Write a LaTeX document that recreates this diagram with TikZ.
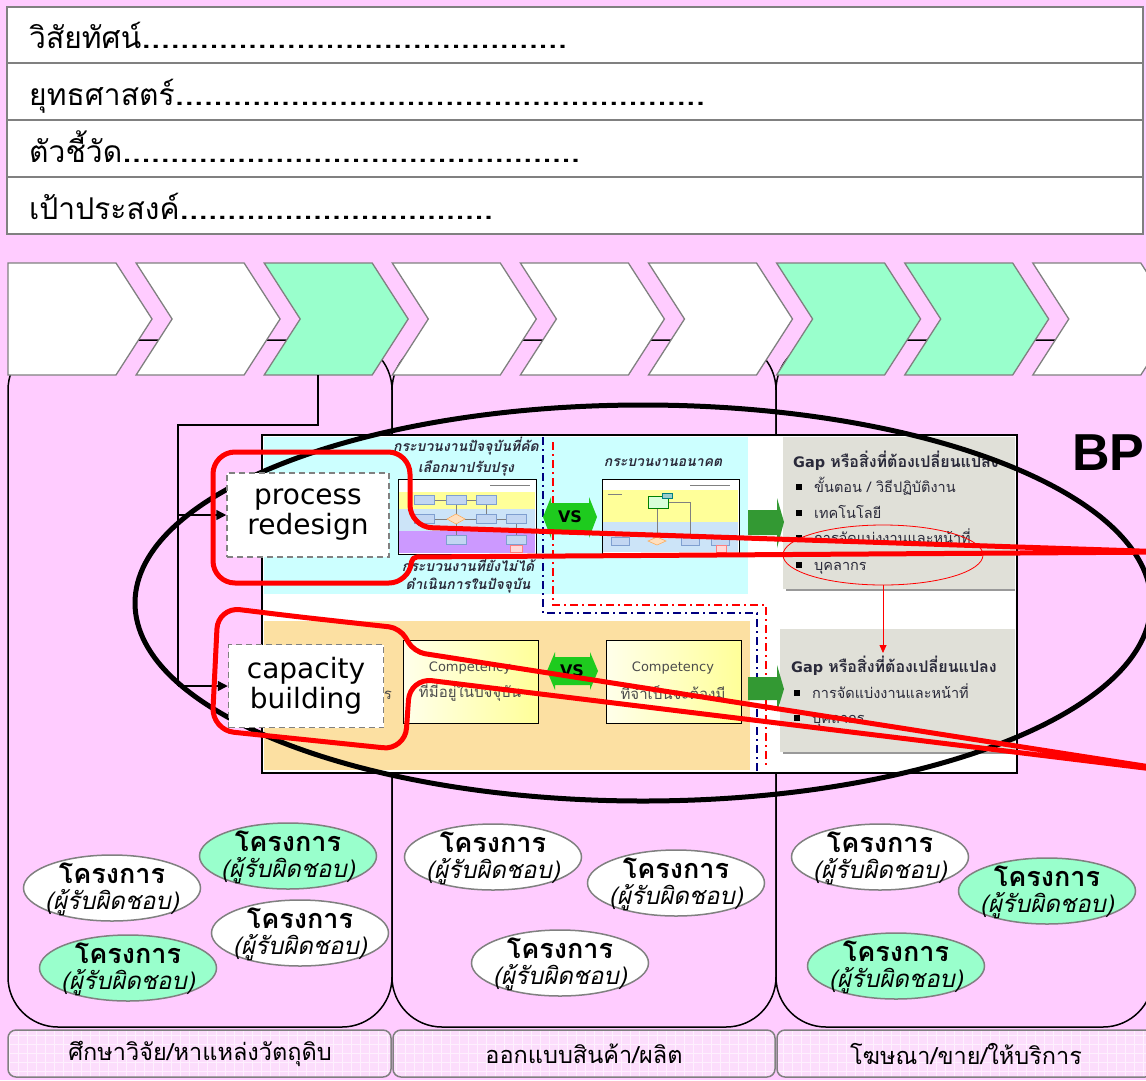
\documentclass[tikz,border=0pt]{standalone}
\usepackage{fontspec}
\setmainfont{DejaVu Sans}
\newfontfamily\thaifont[Script=Thai]{Loma}
\newfontfamily\bpfont{Liberation Sans}
\usetikzlibrary{arrows.meta,shapes.geometric}
\definecolor{bgpink}{HTML}{FFCCFF}
\definecolor{mint}{HTML}{99FFCC}
\definecolor{hgrey}{HTML}{808080}
\definecolor{cyanbg}{HTML}{CCFFFF}
\definecolor{tanbg}{HTML}{FCE0A2}
\definecolor{gapgrey}{HTML}{E0E0D8}
\definecolor{arrgreen}{HTML}{339933}
\definecolor{vsgreen}{HTML}{1ECB1E}
\definecolor{lblpink}{HTML}{FCDDFC}
\definecolor{navyline}{HTML}{000080}
\definecolor{fyellow}{HTML}{FFFF99}
\definecolor{fblue}{HTML}{CCE4F8}
\definecolor{fpurple}{HTML}{CC99FF}
\definecolor{fbox}{HTML}{C2D6F2}
\definecolor{fboxd}{HTML}{7F9FD0}
\definecolor{txtdark}{HTML}{2A2A3A}
\newcommand\dotrow[2]{\hbox to #1{#2\xleaders\hbox to 9.5pt{\hss{\bfseries.}\hss}\hfill}}
\tikzset{
  hdrrow/.style={draw=hgrey, line width=2.5pt, fill=white},
  hdrtxt/.style={anchor=base west, inner sep=0, font=\thaifont\fontsize{30}{32}\selectfont},
  chevw/.style={draw=hgrey, line width=1.3pt, fill=white, line join=miter},
  chevg/.style={chevw, fill=mint},
  colbox/.style={draw=black, line width=1.5pt, rounded corners=50pt, fill=bgpink},
  lblbox/.style={draw=hgrey, line width=1.5pt, rounded corners=8pt},
  lbltxt/.style={font=\thaifont\fontsize{23.5}{26}\selectfont, inner sep=0},
  projw/.style={ellipse, draw=hgrey, line width=1.5pt, minimum width=177pt, minimum height=66pt, inner sep=0, fill=white},
  projg/.style={projw, fill=mint},
  projtxt/.style={inner sep=0, align=center, font=\thaifont\fontsize{24}{26}\selectfont},
  conn/.style={draw=black, line width=1.5pt},
  connarr/.style={conn, -{Triangle[length=10pt,width=10pt]}},
  dbox/.style={draw=hgrey, dash pattern=on 6pt off 4pt, line width=1.5pt, fill=white, align=center, inner sep=0, font=\fontsize{28}{30}\selectfont},
  callout/.style={draw=red, line width=5pt, line join=round},
  ttl/.style={font=\thaifont\bfseries\itshape\fontsize{14}{16}\selectfont, text=txtdark, inner sep=0},
  gaph/.style={anchor=base west, inner sep=0, text=txtdark, font=\bfseries\fontsize{14.5}{16}\selectfont},
  gapt/.style={anchor=base west, inner sep=0, text=txtdark, font=\thaifont\fontsize{14.5}{17}\selectfont},
  bul/.style={fill=black, minimum size=6pt, inner sep=0},
  mbox/.style={draw=fboxd, line width=0.5pt, fill=fbox},
  mline/.style={draw=gray, line width=0.5pt},
  compbox/.style={draw=black, line width=1pt, left color=yellow!8, right color=fyellow, minimum width=135pt, minimum height=83pt, inner sep=0},
  comptxt/.style={inner sep=0, text=black!70, font=\fontsize{13}{15}\selectfont},
  compth/.style={inner sep=0, text=black!70, font=\thaifont\fontsize{15}{17}\selectfont},
  vslbl/.style={inner sep=0, font=\bfseries\fontsize{16}{18}\selectfont},
  garrow/.style={fill=arrgreen},
  bigell/.style={draw=black, line width=5pt},
}
\begin{document}
\begin{tikzpicture}[x=1pt,y=-1pt]
\useasboundingbox (0,0) rectangle (1146,1080);
\fill[bgpink] (0,0) rectangle (1146,1080);

% ---------- header table
\foreach \t/\b in {7/63,63/120,120/177,177/234}
  \draw[hdrrow] (7,\t) rectangle (1143,\b);
\node[hdrtxt] (h1) at (29,48)  {\dotrow{538pt}{วิสัยทัศน์}};
\node[hdrtxt] (h2) at (29,105) {\dotrow{676pt}{ยุทธศาสตร์}};
\node[hdrtxt] (h3) at (29,162) {\dotrow{551pt}{ตัวชี้วัด}};
\node[hdrtxt] (h4) at (29,219) {\dotrow{464pt}{เป้าประสงค์}};

% ---------- columns
\draw[colbox] (8,340) rectangle (392,1027);
\draw[colbox] (392,340) rectangle (776,1027);
\draw[colbox] (776,340) rectangle (1153,1027);

% ---------- chevrons
\draw[chevw] (8,263) -- (116,263) -- (152,319) -- (116,375) -- (8,375) -- cycle;
\foreach \i/\f in {2/chevw,3/chevg,4/chevw,5/chevw,6/chevw,7/chevg,8/chevg,9/chevw} {
  \pgfmathsetmacro\xo{8+(\i-1)*128.1}
  \draw[\f] (\xo,263) -- ++(108,0) -- ++(36,56) -- ++(-36,56) -- ++(-108,0) -- ++(36,-56) -- cycle;
}
\coordinate (c3b) at (318,375);
\coordinate (jbend) at (318,425);
\coordinate (jt) at (178,425);

% ---------- inner screenshot frame
\draw[black, line width=1.5pt, fill=white] (262,435) rectangle (1017,773);
\fill[cyanbg] (264,437) rectangle (748,594);
\fill[tanbg] (264,621) rectangle (750,770);
\fill[gapgrey] (783,437) rectangle (1015,589);
\draw[gray!80, line width=2pt] (786,590) -- (1015,590);
\fill[gapgrey] (780,629) rectangle (1015,752);
\draw[gray!80, line width=2pt] (783,753) -- (1015,753);

% dash-dot separators
\draw[navyline, line width=2pt, dash pattern=on 8pt off 4pt on 2pt off 4pt] (543,437) -- (543,613) -- (757,613) -- (757,773);
\draw[red, line width=1.5pt, dash pattern=on 8pt off 4pt on 2pt off 4pt] (553,442) -- (553,605) -- (766,605) -- (766,765);

% titles
\node[ttl] (t1) at (466,446) {กระบวนงานปัจจุบันที่คัด};
\node[ttl] (t2) at (466,468) {เลือกมาปรับปรุง};
\node[ttl] (t3) at (468,564) {กระบวนงานที่ยังไม่ได้};
\node[ttl] (t4) at (468,586) {ดำเนินการในปัจจุบัน};
\node[ttl] (t5) at (663,463) {กระบวนงานอนาคต};

% mini flowchart (current)
\draw[black, line width=1pt, fill=white] (398,479) rectangle (536,554);
\fill[fyellow] (399,492) rectangle (535,509);
\fill[fblue] (399,509) rectangle (535,531);
\fill[fpurple] (399,531) rectangle (535,553);
\draw[gray, line width=0.6pt] (490,485) -- (530,485);
\draw[mline] (434,500) -- (446,500) (466,500) -- (476,500) (434,519) -- (447,519) (465,519) -- (476,519) (496,519) -- (506,519)
  (456,505) -- (456,514) (456,524) -- (456,535) (486,505) -- (486,514) (516,524) -- (516,535);
\foreach \cx/\cy in {424/500,456/500,486/500,424/519,486/519,516/519,456/540,516/540}
  \draw[mbox] (\cx-10,\cy-4.5) rectangle (\cx+10,\cy+4.5);
\draw[draw=orange!70, fill=orange!25, line width=0.5pt] (447,519) -- (456,514) -- (465,519) -- (456,524) -- cycle;
\draw[draw=red!50, fill=red!15, line width=0.5pt] (510,545) rectangle (522,552);

% mini flowchart (future)
\draw[black, line width=1pt, fill=white] (602,479) rectangle (739,553);
\fill[fyellow] (603,490) rectangle (738,522);
\fill[fblue] (603,522) rectangle (738,552);
\draw[gray, line width=0.6pt] (690,485) -- (730,485) (608,494) -- (622,494);
\draw[mline] (657,508) -- (657,537) (668,502) -- (690,502) -- (690,537);
\draw[draw=green!50!black, fill=green!15, line width=0.5pt] (648,496) rectangle (668,508);
\draw[draw=teal, fill=teal!40, line width=0.5pt] (662,493) rectangle (672,498);
\foreach \cx in {620,690,720}
  \draw[mbox] (\cx-9,537) rectangle (\cx+9,545);
\draw[draw=orange!70, fill=orange!25, line width=0.5pt] (648,541) -- (657,537) -- (666,541) -- (657,545) -- cycle;
\draw[draw=red!50, fill=red!15, line width=0.5pt] (716,545) rectangle (726,552);

% VS shapes
\fill[vsgreen] (543,517) -- (551,497) -- (551,503) -- (589,503) -- (589,497) -- (597,517) -- (589,538) -- (589,532) -- (551,532) -- (551,538) -- cycle;
\node[vslbl] (vs1) at (570,517) {VS};
\fill[vsgreen] (547,671) -- (555,652) -- (555,657) -- (590,657) -- (590,652) -- (598,671) -- (590,690) -- (590,685) -- (555,685) -- (555,690) -- cycle;
\node[vslbl] (vs2) at (572,671) {VS};

% green arrows
\fill[garrow] (748,510) -- (777,510) -- (777,498) -- (784,522) -- (777,548) -- (777,535) -- (748,535) -- cycle;
\fill[garrow] (748,677) -- (777,677) -- (777,665) -- (784,689) -- (777,712) -- (777,700) -- (748,700) -- cycle;

% competency boxes
\node[compbox] (cb1) at (470.5,681.5) {};
\node[comptxt] (cl1) at (470,668) {Competency};
\node[compth] (cl2) at (470,692) {ที่มีอยู่ในปัจจุบัน};
\node[compbox] (cb2) at (673.5,681.5) {};
\node[comptxt] (cl3) at (673,668) {Competency};
\node[compth] (cl4) at (673,692) {ที่จำเป็นจะต้องมี};
\node[compth] (rr) at (388,695) {ร};

% gap boxes texts
\node[gaph] (g1) at (793,467) {Gap {\thaifont\fontsize{16}{18}\selectfont หรือสิ่งที่ต้องเปลี่ยนแปลง}};
\node[bul] (b1) at (799,487) {};
\node[gapt] (g2) at (814,492) {ขั้นตอน / วิธีปฏิบัติงาน};
\node[bul] (b2) at (799,513) {};
\node[gapt] (g3) at (814,518) {เทคโนโลยี};
\node[bul] (b3) at (799,538) {};
\node[gapt] (g4) at (814,543) {การจัดแบ่งงานและหน้าที่};
\node[bul] (b4) at (799,565) {};
\node[gapt] (g5) at (814,570) {บุคลากร};
\node[gaph] (g6) at (791,672) {Gap {\thaifont\fontsize{16}{18}\selectfont หรือสิ่งที่ต้องเปลี่ยนแปลง}};
\node[bul] (b5) at (797,693) {};
\node[gapt] (g7) at (812,698) {การจัดแบ่งงานและหน้าที่};
\node[bul] (b6) at (797,718) {};
\node[gapt] (g8) at (812,723) {บุคลากร};
\node[draw=red, ellipse, minimum width=200pt, minimum height=60pt, line width=0.8pt, inner sep=0] (rel) at (883,555) {};
\coordinate (rend) at (883,653);
\draw[red, line width=0.8pt, -{Triangle[length=8pt,width=7pt]}] (rel.south) -- (rend);

% ---------- big ellipse
\draw[bigell] (643,603) ellipse [x radius=508, y radius=198];

% ---------- dashed label boxes
\node[dbox, minimum width=162pt, minimum height=84pt] (proc) at (308,515) {process\\redesign};
\node[dbox, minimum width=155pt, minimum height=83pt] (cap) at (306,686) {capacity\\building};

% connectors from chevron 3
\draw[conn] (c3b) -- (jbend) -- (jt) -- (jt |- cap.west);
\draw[connarr] (jt |- proc.west) -- (proc.west);
\draw[connarr] (jt |- cap.west) -- (cap.west);

% ---------- red callouts
\draw[callout] (300,452) [rounded corners=22pt] -- (410,452) -- (410,527) -- (1170,552)
   [rounded corners=5pt] -- (412,557) [rounded corners=20pt] -- (409,583) [rounded corners=22pt] -- (213,583) -- (213,452) -- cycle;
\draw[callout] (300,617) [rounded corners=11pt] -- (400,628) -- (414,652) [rounded corners=22pt] -- (1202,775)
   -- (410,678) -- (405,750) -- (212,730) -- (218,607) -- cycle;

% ---------- BP
\node[anchor=base west, inner sep=0, font=\bpfont\bfseries\fontsize{52}{52}\selectfont] (bp) at (1072,470) {BP};

% ---------- project ovals
\newcommand\projtext{{\bfseries\fontsize{27}{26}\selectfont โครงการ}\\{\itshape (ผู้รับผิดชอบ)}}
\foreach \n/\s/\px/\py in {p1/projw/112/888, p2/projg/288/856, p3/projw/300/933, p4/projg/128/968,
    p5/projw/493/857, p6/projw/676/883, p7/projw/560/963,
    p8/projw/880/857, p9/projg/1047/891, p10/projg/896/966} {
  \node[\s] (\n) at (\px,\py) {};
  \node[projtxt] (\n t) at ([yshift=-1pt]\n.center) {\projtext};
}

% ---------- bottom labels
\foreach \xa/\xb in {8/391,393/775,777/1153} {
  \fill[lblpink, rounded corners=8pt] (\xa,1030) rectangle (\xb,1077);
  \begin{scope}
    \clip[rounded corners=8pt] (\xa,1030) rectangle (\xb,1077);
    \draw[white!55!lblpink, line width=0.6pt, step=9pt] (\xa,1030) grid (\xb,1077);
  \end{scope}
  \draw[lblbox] (\xa,1030) rectangle (\xb,1077);
}
\node[lbltxt] (l1) at (200,1054) {ศึกษาวิจัย/หาแหล่งวัตถุดิบ};
\node[lbltxt] (l2) at (584,1054) {ออกแบบสินค้า/ผลิต};
\node[lbltxt] (l3) at (966,1054) {โฆษณา/ขาย/ให้บริการ};
\end{tikzpicture}
\end{document}
